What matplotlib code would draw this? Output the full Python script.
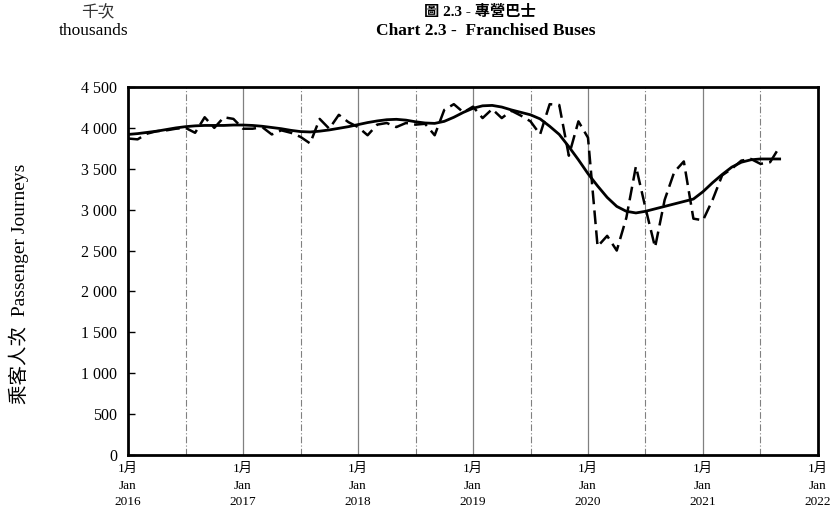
# plot.py - Chart 2.3 Franchised Buses

import matplotlib
matplotlib.use("Agg")
import matplotlib.pyplot as plt
from matplotlib.ticker import FuncFormatter, MultipleLocator

plt.rcParams['font.family'] = ['Liberation Serif', 'Noto Sans CJK TC']

# Monthly passenger journeys (thousands), Jan 2016 - Sep 2021
actual_2016 = [3870, 3860, 3930, 3960, 3970, 3990, 4000, 3940, 4130, 4000, 4130, 4110]
actual_2017 = [3990, 3990, 4010, 3920, 3970, 3940, 3890, 3810, 4110, 3990, 4160, 4070]
actual_2018 = [4010, 3910, 4040, 4060, 4010, 4060, 4040, 4050, 3910, 4220, 4290, 4190]
actual_2019 = [4260, 4120, 4230, 4120, 4210, 4150, 4080, 3920, 4290, 4280, 3660, 4080]
actual_2020 = [3880, 2550, 2680, 2500, 2900, 3530, 3020, 2540, 3120, 3460, 3590, 2890]
actual_2021 = [2870, 3120, 3420, 3500, 3600, 3620, 3560, 3580, 3770]

trend_2016 = [3920, 3930, 3945, 3960, 3980, 4000, 4015, 4025, 4030, 4030, 4030, 4035]
trend_2017 = [4035, 4030, 4020, 4005, 3990, 3970, 3955, 3950, 3960, 3975, 3995, 4015]
trend_2018 = [4040, 4065, 4085, 4100, 4105, 4095, 4075, 4060, 4055, 4080, 4130, 4190]
trend_2019 = [4240, 4270, 4275, 4255, 4220, 4190, 4160, 4110, 4020, 3920, 3770, 3610]
trend_2020 = [3440, 3290, 3150, 3040, 2980, 2960, 2980, 3010, 3040, 3070, 3100, 3130]
trend_2021 = [3220, 3330, 3430, 3520, 3580, 3610, 3620, 3620, 3620]

years = [2016, 2017, 2018, 2019, 2020, 2021, 2022]

actual = actual_2016 + actual_2017 + actual_2018 + actual_2019 + actual_2020 + actual_2021
trend = trend_2016 + trend_2017 + trend_2018 + trend_2019 + trend_2020 + trend_2021
months = list(range(len(actual)))

fig = plt.figure(figsize=(8.34, 5.21), dpi=100)
ax = fig.add_axes([0.1535, 0.1267, 0.8273, 0.7063])

# vertical grid: solid at January, dash-dot at July
for i in range(1, len(years) - 1):
    ax.axvline(i * 12, color='#808080', lw=0.9, zorder=1)
for i in range(len(years) - 1):
    ax.axvline(i * 12 + 6, color='#808080', lw=0.8, ls=(0, (6, 2, 1, 2)), zorder=1)

ax.plot(months, actual, color='black', lw=1.8, ls=(0, (5.5, 2.5)), zorder=3)
ax.plot(months, trend, color='black', lw=2.0, zorder=4)

ax.set_xlim(0, 72)
ax.set_ylim(0, 4500)
ax.yaxis.set_major_locator(MultipleLocator(500))
ax.yaxis.set_major_formatter(FuncFormatter(lambda v, p: f"{int(v):,}".replace(",", " ")))
ax.tick_params(axis='y', direction='in', length=5, width=1, labelsize=11.5, pad=8)

ax.set_xticks([i * 12 for i in range(len(years))])
ax.set_xticklabels([f"1月\nJan\n{y}" for y in years], fontsize=9.5, linespacing=1.5)
ax.tick_params(axis='x', length=0, pad=6)

for s in ax.spines.values():
    s.set_linewidth(2)

fig.text(0.575, 0.977, "圖 2.3 - 專營巴士", ha='center', va='center',
         fontsize=11, fontweight='bold')
fig.text(0.582, 0.940, "Chart 2.3 -  Franchised Buses", ha='center', va='center',
         fontsize=12.5, fontweight='bold')

fig.text(0.117, 0.975, "千次", ha='center', va='center', fontsize=12, color='#333333')
fig.text(0.112, 0.940, "thousands", ha='center', va='center', fontsize=12.5)
fig.text(0.022, 0.455, "乘客人次  Passenger Journeys", rotation=90, ha='center',
         va='center', fontsize=14)

fig.savefig("out.png", dpi=100)
